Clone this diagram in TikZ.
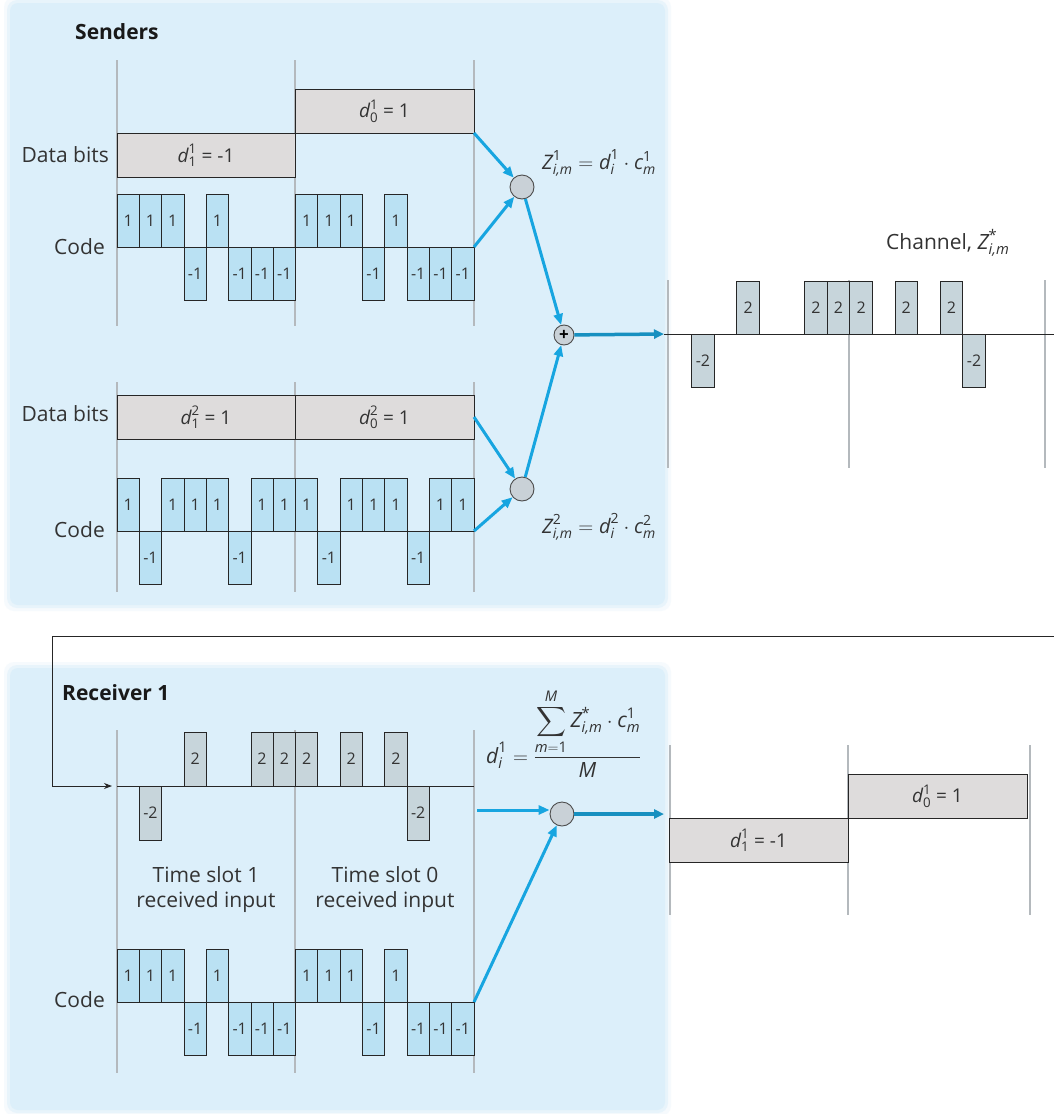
\documentclass[tikz,border=0pt]{standalone}
\usepackage{fontspec}
\usepackage{amsmath}
\setmainfont{Open Sans}
\usetikzlibrary{arrows.meta,calc}
\definecolor{panelblue}{HTML}{DCEFFA}
\definecolor{chipblue}{HTML}{BAE1F3}
\definecolor{chipgray}{HTML}{C7D5DB}
\definecolor{boxgray}{HTML}{DEDCDC}
\definecolor{vgray}{HTML}{B4B9BD}
\definecolor{arrowblue}{HTML}{17A5E0}
\definecolor{arrowdark}{HTML}{1790C0}
\definecolor{multgray}{HTML}{C9D1D7}
\definecolor{txt}{HTML}{333333}
\newcommand\chiprow[7]{% name, x0, baseline, width, height, style, list
  \foreach \v [count=\i from 0] in {#7} {
    \ifnum\v>0
      \node[#6, minimum width=#4pt, minimum height=#5pt, anchor=south west] (#1\i) at ({#2+\i*#4}, #3) {\v};
    \else\ifnum\v<0
      \node[#6, minimum width=#4pt, minimum height=#5pt, anchor=north west] (#1\i) at ({#2+\i*#4}, #3) {\v};
    \fi\fi
  }}
\newcommand\sy[3]{\text{\itshape #1}^{\text{#2}}_{\text{#3}}}
\begin{document}
\begin{tikzpicture}[x=1pt,y=-1pt,
  chipA/.style={draw=black!85, fill=chipblue, line width=0.7pt, inner sep=0pt, outer sep=0pt, font=\fontsize{16}{16}\selectfont, text=txt},
  chipB/.style={draw=black!85, fill=chipgray, line width=0.7pt, inner sep=0pt, outer sep=0pt, font=\fontsize{16}{16}\selectfont, text=txt},
  databox/.style={draw=black!85, fill=boxgray, line width=0.8pt, inner sep=0pt, outer sep=0pt, minimum height=44pt, font=\fontsize{19}{21}\selectfont, text=txt},
  vline/.style={draw=vgray, line width=2.2pt},
  base/.style={draw=black!85, line width=0.8pt},
  arr/.style={draw=arrowblue, line width=3pt, -{Triangle[length=11pt,width=9pt]}},
  arrd/.style={draw=arrowdark, line width=3.5pt, -{Triangle[length=10pt,width=9pt]}},
  mult/.style={circle, draw=black!70, fill=multgray, line width=0.9pt, minimum size=24pt, inner sep=0pt},
  lbl/.style={font=\fontsize{21}{25}\selectfont, text=txt, inner sep=0pt},
  ttl/.style={font=\fontsize{21}{25}\selectfont\bfseries, text=black!90, inner sep=0pt},
  fml/.style={font=\fontsize{20}{22}\selectfont, text=txt, inner sep=0pt}]
\useasboundingbox (0,0) rectangle (1054,1114);
\fill[white] (0,0) rectangle (1054,1114);
% panels
\foreach \o/\op in {6/0.25,3/0.5}{
  \fill[panelblue, opacity=\op, rounded corners=10pt] (10-\o,3-\o) rectangle (665+\o,605+\o);
  \fill[panelblue, opacity=\op, rounded corners=10pt] (10-\o,668-\o) rectangle (665+\o,1110+\o);}
\fill[panelblue, rounded corners=8pt] (10,3) rectangle (665,605);
\fill[panelblue, rounded corners=8pt] (10,668) rectangle (665,1110);

% vertical slot lines
\foreach \x in {117,295,474}{
  \draw[vline] (\x,60) -- (\x,326);
  \draw[vline] (\x,382) -- (\x,592);
  \draw[vline] (\x,730) -- (\x,1073);}
\foreach \x in {668,849,1045}{ \draw[vline] (\x,280) -- (\x,468); }
\foreach \x in {670,848,1030}{ \draw[vline] (\x,745) -- (\x,915); }

% titles and labels
\node[ttl, anchor=west] (tsend) at (75,32) {Senders};
\node[ttl, anchor=west] (trecv) at (62,693) {Receiver 1};
\node[lbl, anchor=east] (ldb1) at (109,155) {Data bits};
\node[lbl, anchor=east] (lc1) at (105,247) {Code};
\node[lbl, anchor=east] (ldb2) at (109,414) {Data bits};
\node[lbl, anchor=east] (lc2) at (105,530) {Code};
\node[lbl, anchor=east] (lc3) at (105,1000) {Code};
\node[lbl, align=center] (ts1) at (206,890) {Time slot 1\\received input};
\node[lbl, align=center] (ts0) at (385,890) {Time slot 0\\received input};

% sender 1
\node[databox, minimum width=178pt, anchor=north west] (d11) at (117,133) {$\sy{d}{1}{1}$ = -1};
\node[databox, minimum width=179pt, anchor=north west] (d01) at (295,89) {$\sy{d}{1}{0}$ = 1};
\draw[base] (117,247) -- (474,247);
\chiprow{a}{117}{247}{22.3125}{53}{chipA}{1,1,1,-1,1,-1,-1,-1,1,1,1,-1,1,-1,-1,-1}

% sender 2
\node[databox, minimum width=178pt, anchor=north west] (d12) at (117,395) {$\sy{d}{2}{1}$ = 1};
\node[databox, minimum width=179pt, anchor=north west] (d02) at (295,395) {$\sy{d}{2}{0}$ = 1};
\draw[base] (117,531) -- (474,531);
\chiprow{b}{117}{531}{22.3125}{53}{chipA}{1,-1,1,1,1,-1,1,1,1,-1,1,1,1,-1,1,1}

% multipliers and adder
\node[mult] (m1) at (522,187) {};
\node[mult] (m2) at (522,489) {};
\node[mult, minimum size=20pt] (plus) at (564,335) {\fontsize{17}{17}\selectfont\bfseries +};
\node[fml] (z1) at (599,163) {$\sy{Z}{1}{\itshape i,m} = \sy{d}{1}{\itshape i}\cdot\sy{c}{1}{\itshape m}$};
\node[fml] (z2) at (599,527) {$\sy{Z}{2}{\itshape i,m} = \sy{d}{2}{\itshape i}\cdot\sy{c}{2}{\itshape m}$};
\draw[arr] (d01.south east) -- (m1);
\draw[arr] (a15.north east) -- (m1);
\draw[arr] (d02.east) -- (m2);
\draw[arr] (b15.south east) -- (m2);
\draw[arr] (m1) -- (plus);
\draw[arr] (m2) -- (plus);

% channel
\coordinate (chin) at (664,334);
\coordinate (chend) at (1054,334);
\draw[arrd] (plus) -- (chin);
\draw[base] (chin) -- (chend);
\chiprow{c}{669}{334}{22.6}{53}{chipB}{0,-2,0,2,0,0,2,2,2,0,2,0,2,-2,0,0}
\node[lbl, anchor=west] (chl) at (886,243) {Channel, $\sy{Z}{*}{\itshape i,m}$};

% feedback to receiver
\coordinate (fbR) at (1054,636);
\coordinate (fbL) at (52,636);
\coordinate (fbB) at (52,786);
\coordinate (rin) at (112,786);
\draw[black!85, line width=0.9pt, -{Stealth[length=8pt,width=6pt]}] (fbR) -- (fbL) -- (fbB) -- (rin);
\draw[base] (117,786) -- (474,786);
\chiprow{r}{117}{786}{22.3125}{54}{chipB}{0,-2,0,2,0,0,2,2,2,0,2,0,2,-2,0,0}

% receiver code
\draw[base] (117,1002) -- (474,1002);
\chiprow{k}{117}{1002}{22.3125}{53}{chipA}{1,1,1,-1,1,-1,-1,-1,1,1,1,-1,1,-1,-1,-1}

% receiver decoder
\node[mult] (mr) at (562,814) {};
\node[font=\fontsize{21}{23}\selectfont, text=txt, inner sep=0pt, anchor=base west] (rf) at (486,763) {$\sy{d}{1}{\itshape i} = \dfrac{\displaystyle\sum_{\text{\itshape m}=\text{1}}^{\text{\itshape M}} \sy{Z}{*}{\itshape i,m}\cdot\sy{c}{1}{\itshape m}}{\text{\itshape M}}$};
\coordinate (rin2) at (477,810);
\draw[arr] (rin2) -- (rin2 -| mr.west);
\draw[arr] (k15.north east) -- (mr);
\coordinate (oin) at (664,814);
\draw[arrd] (mr) -- (oin);

% output bits
\node[databox, minimum width=179pt, anchor=north west] (o1) at (669,818) {$\sy{d}{1}{1}$ = -1};
\node[databox, minimum width=179pt, anchor=north west] (o0) at (848,774) {$\sy{d}{1}{0}$ = 1};
\end{tikzpicture}
\end{document}
